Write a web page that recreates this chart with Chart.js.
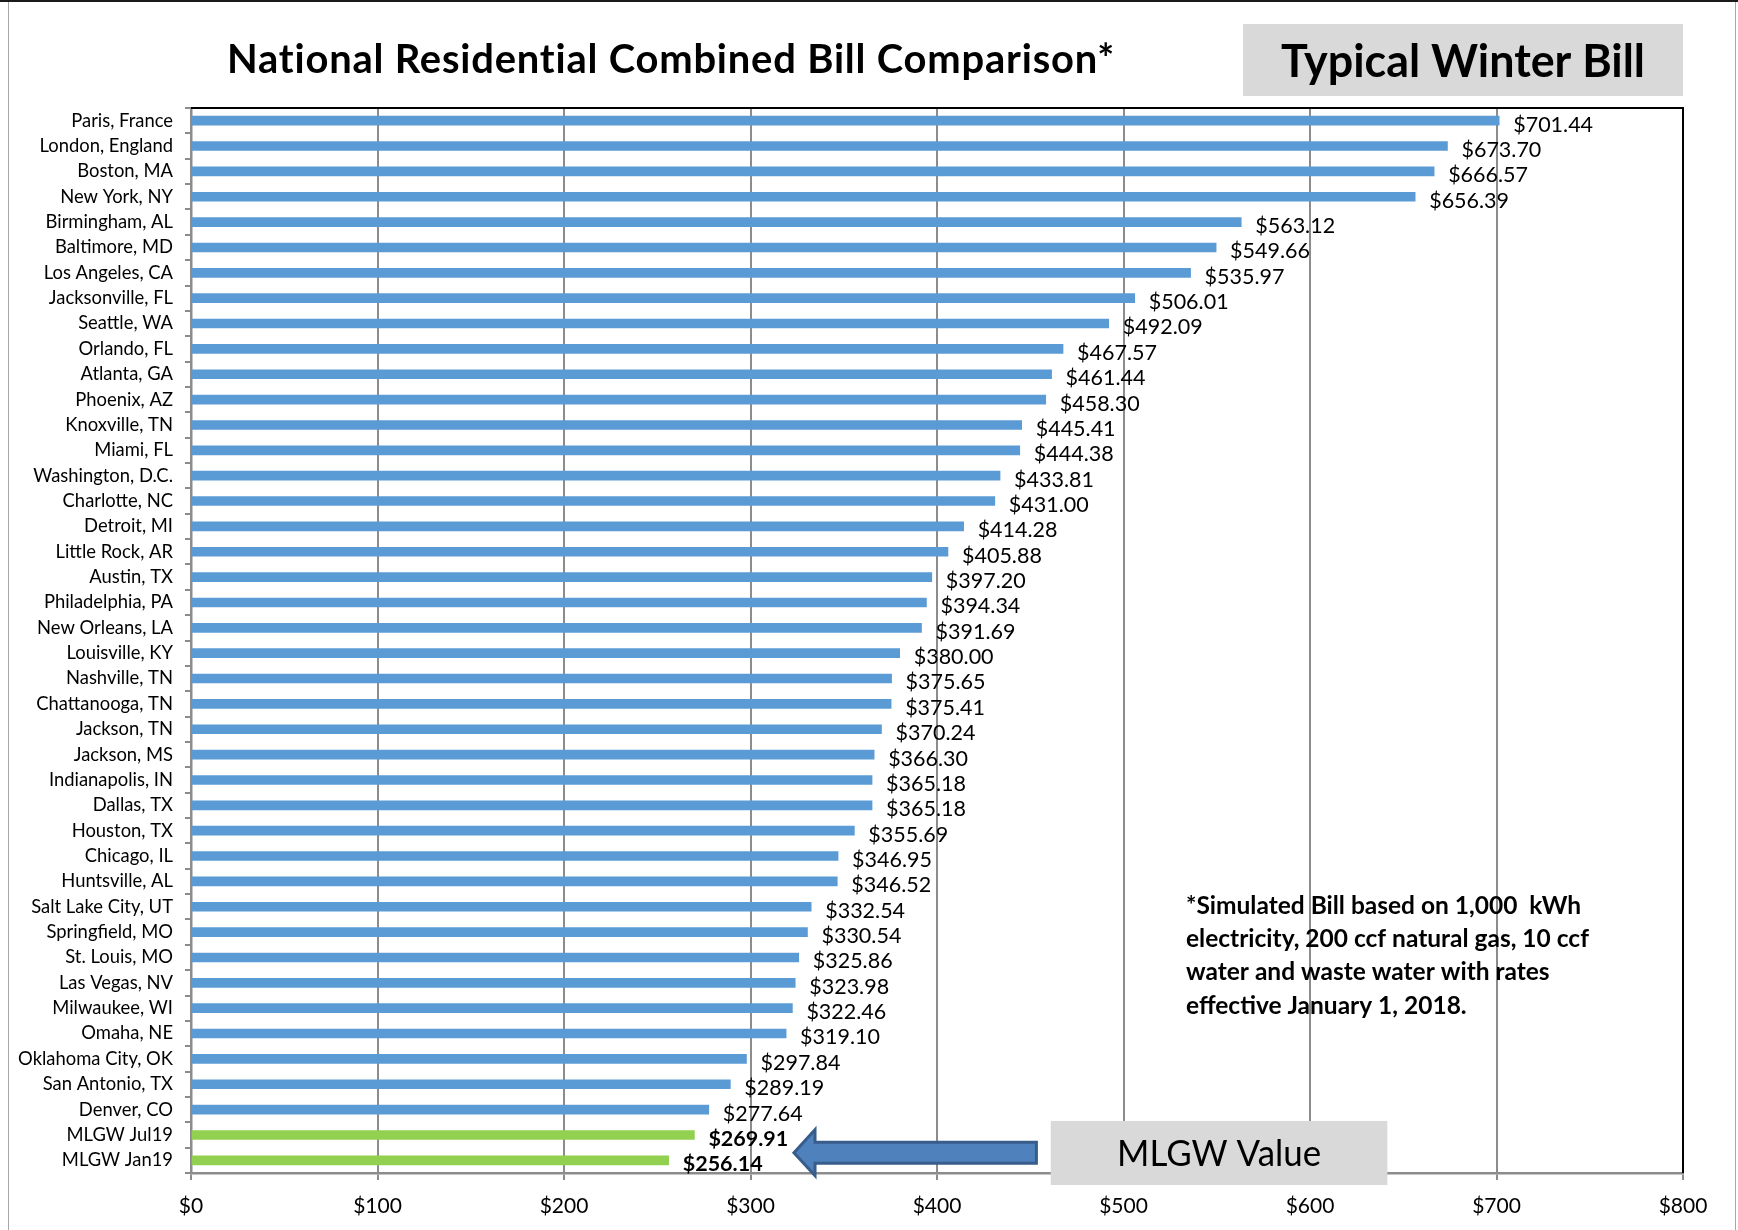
<!DOCTYPE html>
<html><head><meta charset="utf-8">
<script src="https://cdn.jsdelivr.net/npm/chart.js@4/dist/chart.umd.min.js"></script>
<style>html,body{margin:0;padding:0;background:#fff;overflow:hidden}#wrap{width:1738px;height:1230px;position:relative}</style>
</head><body><div id="wrap"><canvas id="c" width="1738" height="1230"></canvas></div>
<script>
const cities = ["Paris, France","London, England","Boston, MA","New York, NY","Birmingham, AL","Baltimore, MD","Los Angeles, CA","Jacksonville, FL","Seattle, WA","Orlando, FL","Atlanta, GA","Phoenix, AZ","Knoxville, TN","Miami, FL","Washington, D.C.","Charlotte, NC","Detroit, MI","Little Rock, AR","Austin, TX","Philadelphia, PA","New Orleans, LA","Louisville, KY","Nashville, TN","Chattanooga, TN","Jackson, TN","Jackson, MS","Indianapolis, IN","Dallas, TX","Houston, TX","Chicago, IL","Huntsville, AL","Salt Lake City, UT","Springfield, MO","St. Louis, MO","Las Vegas, NV","Milwaukee, WI","Omaha, NE","Oklahoma City, OK","San Antonio, TX","Denver, CO","MLGW Jul19","MLGW Jan19"];
const bills = [701.44,673.70,666.57,656.39,563.12,549.66,535.97,506.01,492.09,467.57,461.44,458.30,445.41,444.38,433.81,431.00,414.28,405.88,397.20,394.34,391.69,380.00,375.65,375.41,370.24,366.30,365.18,365.18,355.69,346.95,346.52,332.54,330.54,325.86,323.98,322.46,319.10,297.84,289.19,277.64,269.91,256.14];
const highlighted = ["MLGW Jul19","MLGW Jan19"];
const xTickValues = [0,100,200,300,400,500,600,700,800];
const titleText = "National Residential Combined Bill Comparison*";
const seasonLabel = "Typical Winter Bill";
const calloutLabel = "MLGW Value";
const footnoteLines = ["*Simulated Bill based on 1,000  kWh","electricity, 200 ccf natural gas, 10 ccf","water and waste water with rates","effective January 1, 2018."];

const isHL = c => highlighted.includes(c);
const barColors = cities.map(c => isHL(c) ? '#92d050' : '#5b9bd5');
const FONT = 'Lato, "Open Sans", sans-serif';

const deco = {
  id: 'deco',
  afterDatasetsDraw(chart) {
    const ctx = chart.ctx;
    const meta = chart.getDatasetMeta(0);
    ctx.save();
    ctx.fillStyle = '#000';
    ctx.textAlign = 'left';
    ctx.textBaseline = 'middle';
    meta.data.forEach((el, i) => {
      ctx.font = (isHL(cities[i]) ? 'bold ' : '') + '21.5px ' + FONT;
      ctx.fillText('$' + bills[i].toFixed(2), el.x + 14, el.y + 4);
    });
    ctx.restore();
  },
  afterDraw(chart) {
    const ctx = chart.ctx, ca = chart.chartArea;
    const xs = chart.scales.x, ys = chart.scales.y;
    ctx.save();
    // outer frame
    ctx.fillStyle = '#1a1a1a';
    ctx.fillRect(0, 0, chart.width, 2);
    ctx.strokeStyle = '#a6a6a6';
    ctx.lineWidth = 1;
    ctx.beginPath();
    ctx.moveTo(8.5, 2); ctx.lineTo(8.5, chart.height);
    ctx.moveTo(chart.width - 2.5, 2); ctx.lineTo(chart.width - 2.5, chart.height);
    ctx.stroke();
    // plot top/right border
    ctx.strokeStyle = '#000';
    ctx.lineWidth = 2;
    ctx.beginPath();
    ctx.moveTo(ca.left, ca.top); ctx.lineTo(ca.right, ca.top); ctx.lineTo(ca.right, ca.bottom);
    ctx.stroke();
    // title
    ctx.fillStyle = '#000';
    ctx.textAlign = 'left';
    ctx.textBaseline = 'alphabetic';
    ctx.font = 'bold 40px ' + FONT;
    if ('letterSpacing' in ctx) ctx.letterSpacing = '0.8px';
    ctx.fillText(titleText, 227, 73, 888);
    if ('letterSpacing' in ctx) ctx.letterSpacing = '0px';
    // season box
    ctx.fillStyle = '#d9d9d9';
    ctx.fillRect(1243, 24, ca.right - 1243, 72);
    ctx.fillStyle = '#000';
    ctx.textAlign = 'center';
    ctx.font = 'bold 45px ' + FONT;
    ctx.fillText(seasonLabel, (1243 + ca.right) / 2, 77, 364);
    // footnote
    ctx.textAlign = 'left';
    ctx.textBaseline = 'middle';
    ctx.font = 'bold 24.5px ' + FONT;
    const fx = xs.getPixelForValue(533.5);
    const fy = ys.getPixelForValue(31) - 1;
    const fw = [402, 410, 378, 281];
    footnoteLines.forEach((t, i) => ctx.fillText(t, fx, fy + i * 33.3, fw[i]));
    // arrow
    const y0 = ys.getPixelForValue(40), y1 = ys.getPixelForValue(41);
    const yc = y0 + (y1 - y0) * 0.7;
    const xTip = xs.getPixelForValue(323.3), xHead = xs.getPixelForValue(334.6), xTail = xs.getPixelForValue(453.3);
    const hh = 23, sh = 10.5;
    ctx.beginPath();
    ctx.moveTo(xTip, yc);
    ctx.lineTo(xHead, yc - hh);
    ctx.lineTo(xHead, yc - sh);
    ctx.lineTo(xTail, yc - sh);
    ctx.lineTo(xTail, yc + sh);
    ctx.lineTo(xHead, yc + sh);
    ctx.lineTo(xHead, yc + hh);
    ctx.closePath();
    ctx.fillStyle = '#4f81bd';
    ctx.fill();
    ctx.strokeStyle = '#385d8a';
    ctx.lineWidth = 3;
    ctx.lineJoin = 'miter';
    ctx.stroke();
    // callout box
    const bx0 = xs.getPixelForValue(461), bx1 = xs.getPixelForValue(641.5);
    const by0 = y0 - 14, by1 = ca.bottom + 12;
    ctx.fillStyle = '#d9d9d9';
    ctx.fillRect(bx0, by0, bx1 - bx0, by1 - by0);
    ctx.fillStyle = '#000';
    ctx.textAlign = 'center';
    ctx.textBaseline = 'middle';
    ctx.font = '36px ' + FONT;
    ctx.fillText(calloutLabel, (bx0 + bx1) / 2, (by0 + by1) / 2 + 1, 204);
    ctx.restore();
  }
};

new Chart(document.getElementById('c'), {
  type: 'bar',
  data: {
    labels: cities,
    datasets: [{
      data: bills,
      backgroundColor: barColors,
      borderWidth: 0,
      barThickness: 9
    }]
  },
  options: {
    indexAxis: 'y',
    responsive: false,
    animation: false,
    devicePixelRatio: 1,
    layout: { padding: { top: 108, right: 55, bottom: 0, left: 0 } },
    plugins: { legend: { display: false }, tooltip: { enabled: false }, title: { display: false } },
    scales: {
      x: {
        type: 'linear', min: 0, max: 800,
        afterBuildTicks: s => { s.ticks = xTickValues.map(v => ({ value: v })); },
        afterFit: s => { s.height = 57; },
        grid: { color: '#8c8c8c', lineWidth: 2, tickLength: 7, drawTicks: true },
        border: { color: '#8c8c8c', width: 2.5 },
        ticks: { color: '#000', padding: 14, font: { family: FONT, size: 21 }, callback: v => '$' + v }
      },
      y: {
        afterFit: s => { s.width = 191; },
        grid: { drawOnChartArea: false, color: '#8c8c8c', lineWidth: 2, tickLength: 6, offset: true },
        border: { color: '#8c8c8c', width: 2.5 },
        ticks: { color: '#000', padding: 12, autoSkip: false, font: { family: FONT, size: 18.4 } }
      }
    }
  },
  plugins: [deco]
});
</script></body></html>
